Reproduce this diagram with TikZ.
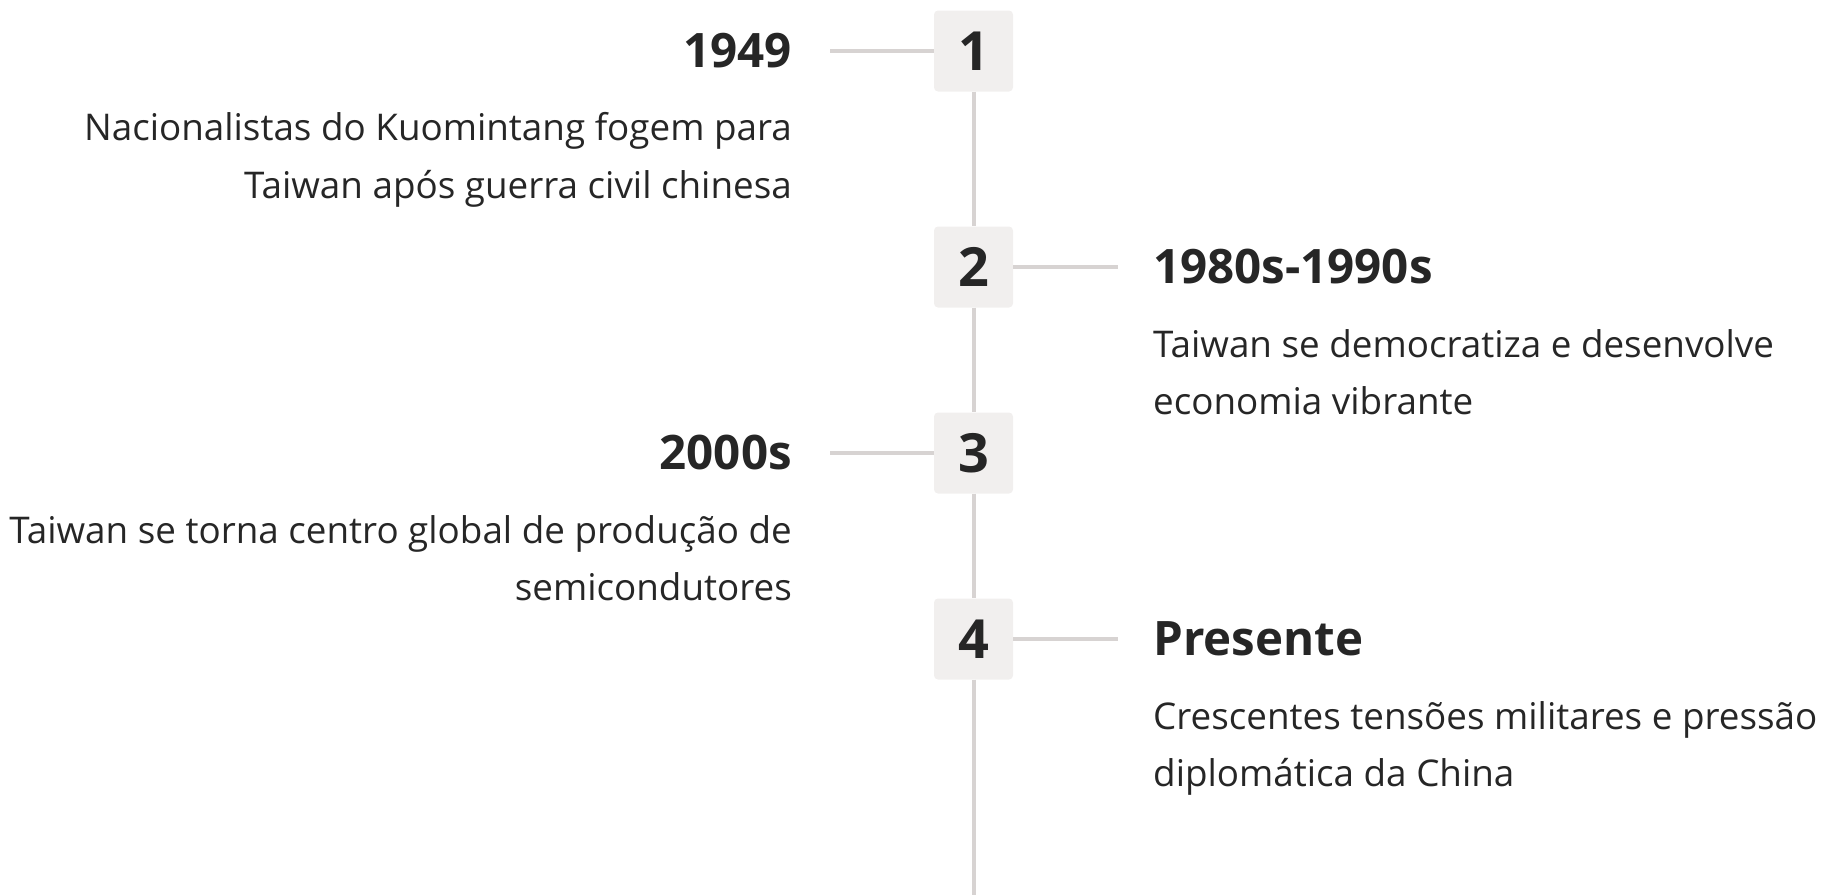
\documentclass[tikz,border=0pt]{standalone}
\usepackage{fontspec}
\setmainfont{Open Sans}
\usepackage{xcolor}
\definecolor{ink}{HTML}{262626}
\definecolor{boxgray}{HTML}{F1EFEE}
\definecolor{linegray}{HTML}{D7D3D2}

\begin{document}
\begin{tikzpicture}[x=1pt,y=-1pt]
\tikzstyle{every node}+=[inner sep=0pt, text=ink]
\tikzstyle{stepbox}=[fill=boxgray, rounded corners=4pt, minimum width=79pt, minimum height=81pt, font=\fontsize{54}{54}\selectfont\bfseries]
\tikzstyle{year}=[font=\fontsize{47.5}{47.5}\selectfont\bfseries]
\tikzstyle{desc}=[font=\fontsize{36.8}{57.5}\selectfont]
\tikzstyle{rule}=[draw=linegray, line width=4pt]
\useasboundingbox (0,0) rectangle (1827,895);
% steps on the time line
\node [stepbox] (n1) at (973.5,51) {1};
\node [stepbox] (n2) at (973.5,267) {2};
\node [stepbox] (n3) at (973.5,453) {3};
\node [stepbox] (n4) at (973.5,639) {4};
\coordinate (bottom) at (973.5,895);
% left side (base = last line)
\node [year, anchor=base east] (t1) at (792,67) {1949};
\node [desc, anchor=base east, align=right] (d1) at (792,198) {Nacionalistas do Kuomintang fogem para\\Taiwan após guerra civil chinesa};
\node [year, anchor=base east] (t3) at (792,469) {2000s};
\node [desc, anchor=base east, align=right] (d3) at (792,600.5) {Taiwan se torna centro global de produção de\\semicondutores};
% right side
\node [year, anchor=base west] (t2) at (1153,283) {1980s-1990s};
\node [desc, anchor=base west, align=left] (d2) at (1153,414.5) {Taiwan se democratiza e desenvolve\\economia vibrante};
\node [year, anchor=base west] (t4) at (1153,655) {Presente};
\node [desc, anchor=base west, align=left] (d4) at (1153,786.5) {Crescentes tensões militares e pressão\\diplomática da China};
% connectors
\draw [rule] (n1.south) -- (n2.north) (n2.south) -- (n3.north) (n3.south) -- (n4.north) (n4.south) -- (bottom);
\draw [rule, shorten >=38pt] (n1.west) -- (n1.west -| t1.east);
\draw [rule, shorten >=38pt] (n3.west) -- (n3.west -| t3.east);
\draw [rule, shorten >=35pt] (n2.east) -- (n2.east -| t2.west);
\draw [rule, shorten >=35pt] (n4.east) -- (n4.east -| t4.west);
\end{tikzpicture}
\end{document}
